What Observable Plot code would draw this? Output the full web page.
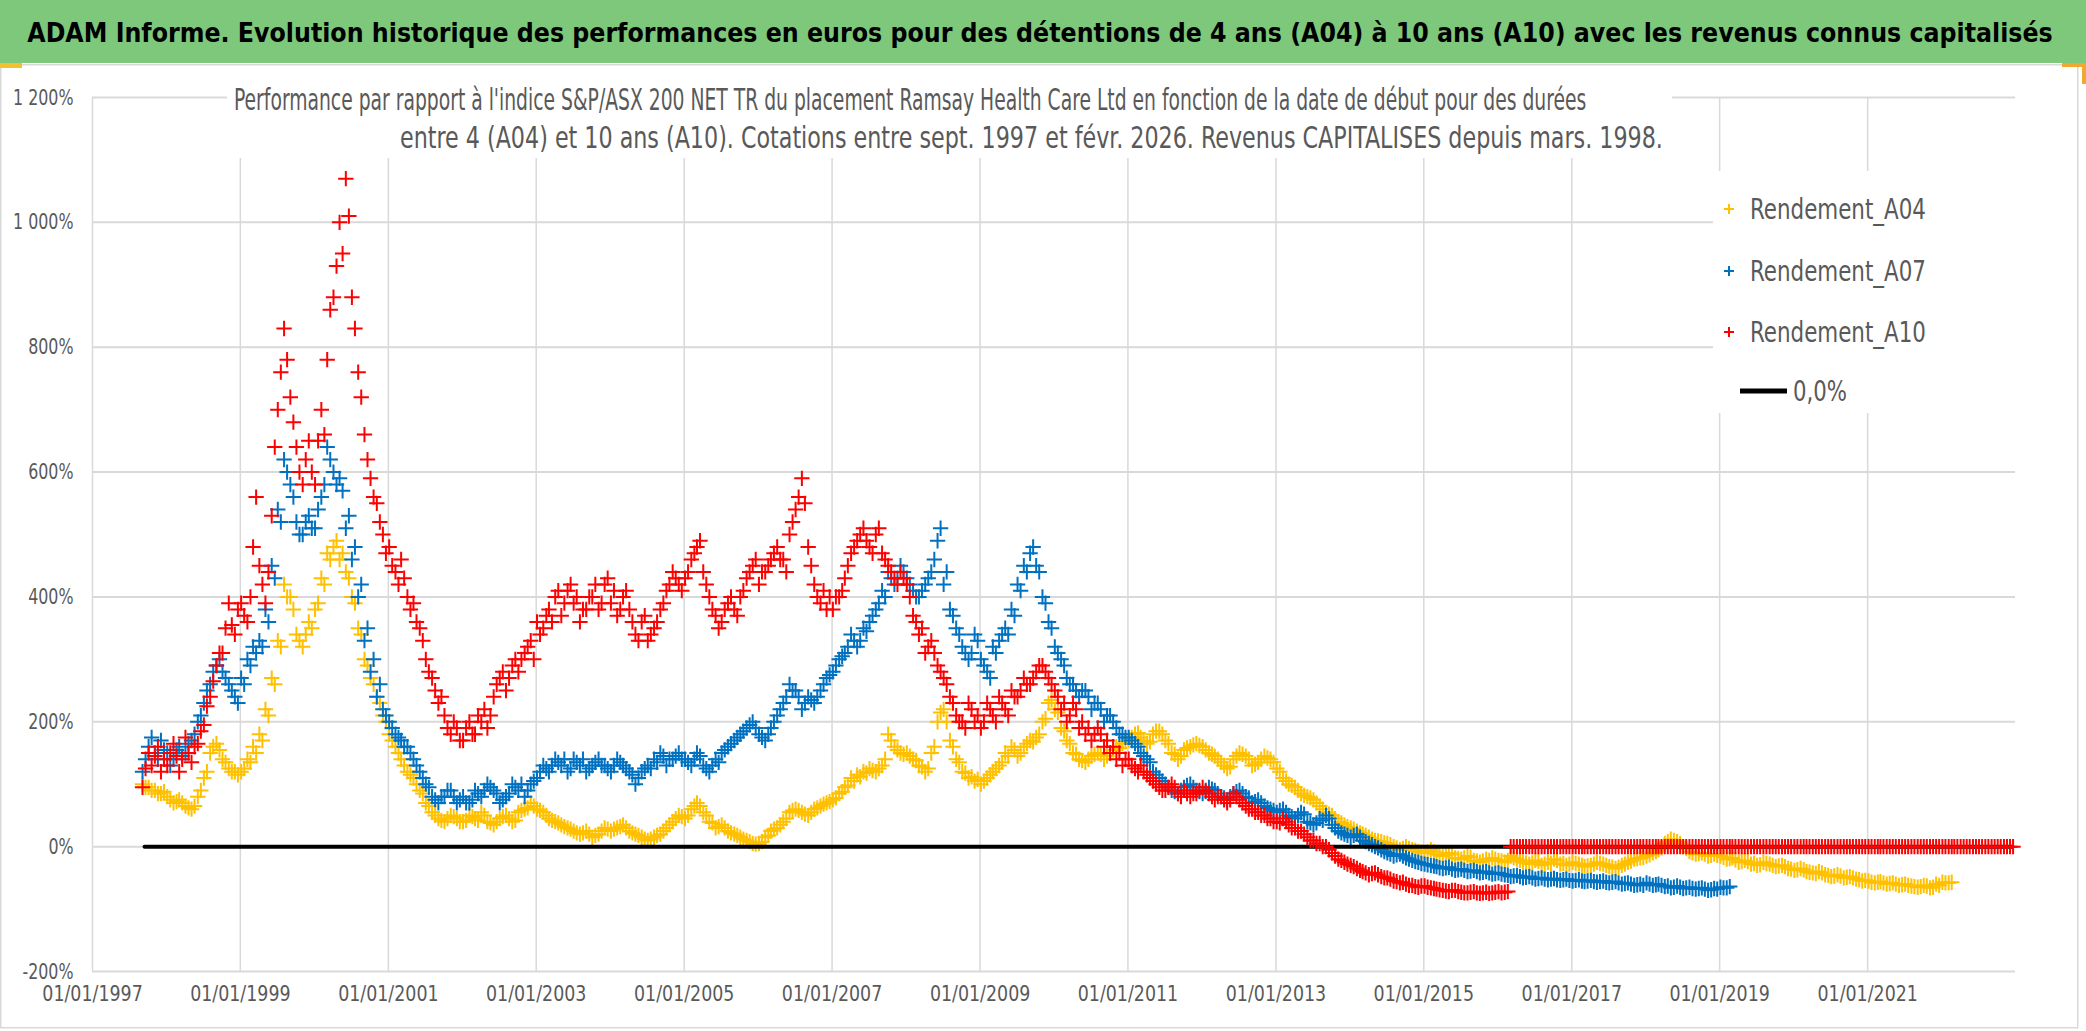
<!DOCTYPE html>
<html><head><meta charset="utf-8">
<script src="https://cdn.jsdelivr.net/npm/d3@7"></script>
<script src="https://cdn.jsdelivr.net/npm/@observablehq/plot@0.6"></script>
<style>
html,body{margin:0;padding:0;background:#fff;}
body{width:2086px;height:1031px;overflow:hidden;position:relative;font-family:"Liberation Sans Narrow","Arial Narrow","DejaVu Sans Condensed",sans-serif;}
#title{position:absolute;left:0;top:0;width:2086px;height:63px;background:#7ec87c;}
#chart{position:absolute;left:0;top:65px;}
#overlay{position:absolute;left:0;top:0;pointer-events:none;}
</style></head><body>
<div id="title"><svg width="2086" height="63"><text id="titleText" x="1040" y="42" text-anchor="middle" font-size="32" font-weight="bold" fill="#000" style="font-family:'Liberation Sans Narrow','Arial Narrow','DejaVu Sans Condensed',sans-serif"></text></svg></div>
<div id="chart"></div>
<svg id="overlay" width="2086" height="1031"></svg>
<script>
// ---------------- DATA ----------------
const titleText = "ADAM Informe. Evolution historique des performances en euros pour des détentions de 4 ans (A04) à 10 ans (A10) avec les revenus connus capitalisés";
const subtitleLines = [
  "Performance par rapport à l'indice S&P/ASX 200 NET TR  du placement Ramsay Health Care Ltd en fonction de la date de début pour des durées",
  "entre 4 (A04) et 10 ans (A10). Cotations entre sept. 1997 et févr. 2026. Revenus CAPITALISES depuis mars. 1998."
];
const seriesNames = ["Rendement_A04", "Rendement_A07", "Rendement_A10"];
const zeroName = "0,0%";
const seriesColors = ["#FFC000", "#0070C0", "#FF0000"];

const xTickDates = ["1997-01-01","1999-01-01","2001-01-01","2003-01-01","2005-01-01","2007-01-01","2009-01-01","2011-01-01","2013-01-01","2015-01-01","2017-01-01","2019-01-01","2021-01-01"];
const xDomain = ["1997-01-01", "2023-01-01"];
const yTicks = [-200, 0, 200, 400, 600, 800, 1000, 1200];

// half-monthly values (%) : two readings per month, first month given by *Start
const a04Start = "1997-09";
const a04Values = [
  100,95, 95,90, 90,85, 85,88,
  80,75, 70,72, 75,70, 65,62, 60,65, 80,90, 110,120, 150,160, 165,155, 140,135, 125,120, 120,115,
  120,125, 140,135, 160,150, 180,170, 220,210, 270,260, 330,320, 420,400, 400,380, 340,330, 320,340, 360,350,
  380,390, 430,420, 470,460, 480,490, 460,470, 440,430, 400,390, 350,340, 300,290, 270,260, 240,230, 210,200,
  180,170, 160,150, 140,130, 120,115, 110,100, 90,85, 70,65, 55,50, 45,42, 40,45, 50,48, 45,40,
  40,42, 50,48, 45,42, 55,50, 40,38, 35,40, 45,48, 50,45, 40,42, 55,58, 60,62, 70,65,
  60,58, 55,50, 45,42, 40,38, 35,32, 30,28, 25,22, 20,22, 25,20, 15,18, 20,25, 30,28,
  25,28, 30,32, 35,30, 25,22, 20,18, 15,12, 10,12, 15,18, 20,25, 30,35, 40,45, 50,48,
  45,50, 60,65, 70,65, 55,50, 40,38, 30,32, 35,30, 25,22, 20,18, 15,12, 10,8, 5,4,
  5,8, 15,18, 25,28, 30,35, 40,45, 55,58, 60,58, 55,52, 50,55, 60,62, 65,68, 70,72,
  75,78, 85,88, 95,98, 110,105, 115,112, 120,118, 125,122, 120,125, 130,140, 180,170, 160,155, 150,148,
  150,145, 140,138, 130,128, 120,125, 150,160, 200,215, 220,200, 170,160, 140,135, 120,118, 110,112, 105,108,
  100,105, 110,115, 120,125, 130,135, 150,145, 160,155, 145,150, 160,165, 170,168, 175,180, 200,205, 230,235,
  220,215, 190,185, 170,165, 150,148, 140,138, 135,140, 145,148, 150,148, 140,145, 150,155, 160,158, 165,168,
  170,175, 180,182, 175,170, 165,168, 180,185, 185,180, 170,165, 150,148, 140,145, 155,158, 160,163, 165,162,
  160,155, 150,148, 145,140, 135,130, 125,128, 140,145, 150,148, 145,140, 130,132, 135,140, 145,142, 140,135,
  125,120, 110,105, 100,98, 95,90, 85,82, 80,78, 75,70, 65,60, 55,52, 50,45, 40,38, 35,32,
  30,28, 25,22, 20,18, 15,12, 10,9, 8,6, 5,3, 0,-2, -5,-3, 0,-3, -5,-6, -8,-9,
  -10,-8, -5,-8, -12,-13, -15,-13, -10,-12, -18,-19, -20,-18, -15,-17, -22,-23, -25,-23, -20,-22, -18,-20,
  -22,-23, -25,-22, -15,-18, -20,-22, -25,-26, -28,-26, -22,-24, -30,-28, -25,-27, -20,-22, -28,-27, -30,-28,
  -25,-27, -28,-30, -32,-31, -30,-28, -25,-27, -28,-30, -32,-33, -35,-33, -30,-28, -25,-23, -20,-19, -18,-17,
  -15,-13, -10,-8, -5,-2, 5,8, 12,10, 8,5, 0,-3, -8,-10, -12,-11, -10,-12, -15,-14, -12,-14,
  -15,-17, -20,-19, -18,-21, -25,-24, -22,-24, -28,-27, -30,-29, -25,-27, -28,-30, -32,-31, -30,-32, -35,-36,
  -38,-37, -35,-37, -40,-41, -42,-43, -40,-42, -45,-46, -48,-47, -45,-47, -50,-49, -48,-50, -52,-53, -55,-54,
  -55,-57, -58,-57, -56,-58, -60,-59, -58,-60, -62,-61, -60,-62, -63,-64, -65,-64, -62,-63, -66,-65, -60,-62,
  -57,-58, -58,-57
];
const a07Start = "1997-09";
const a07Values = [
  120,140, 160,175, 150,140, 170,155,
  150,130, 140,155, 160,145, 150,165, 170,180, 200,210, 230,250, 260,280, 290,300, 280,270, 260,250, 240,230,
  270,260, 300,290, 320,310, 330,320, 380,360, 450,430, 540,520, 620,600, 580,560, 520,500, 500,520, 530,510,
  510,540, 560,580, 640,620, 600,580, 590,570, 510,530, 460,480, 400,420, 330,350, 280,300, 240,260, 220,210,
  200,190, 180,175, 170,160, 160,150, 140,130, 120,110, 100,95, 80,75, 70,80, 80,90, 90,80, 70,75,
  80,70, 70,75, 90,85, 80,90, 100,95, 90,85, 70,75, 80,85, 100,95, 90,100, 80,90, 100,105,
  110,120, 130,125, 120,130, 140,135, 130,140, 120,125, 140,135, 130,140, 120,125, 130,135, 140,130, 130,125,
  120,130, 140,135, 130,125, 120,115, 100,110, 120,125, 130,125, 140,135, 150,145, 130,140, 140,145, 150,140,
  140,135, 130,140, 150,145, 130,125, 120,130, 140,135, 150,155, 160,165, 170,175, 180,185, 190,195, 200,190,
  180,175, 170,180, 190,200, 210,220, 230,240, 260,250, 250,240, 220,230, 240,235, 230,240, 250,260, 270,275,
  280,290, 300,305, 310,320, 340,330, 320,330, 350,345, 360,370, 380,390, 410,400, 440,430, 420,430, 450,440,
  430,420, 410,400, 400,410, 420,430, 440,460, 490,510, 420,440, 380,370, 350,340, 320,310, 300,310, 340,330,
  300,290, 280,270, 320,310, 330,340, 350,340, 380,370, 420,410, 450,440, 470,480, 450,440, 400,390, 360,350,
  320,310, 300,290, 270,260, 260,250, 240,250, 250,240, 220,230, 230,220, 200,210, 210,200, 190,180, 180,175,
  175,170, 165,160, 150,145, 140,135, 120,115, 110,105, 100,95, 90,88, 85,90, 95,98, 100,95, 90,88,
  85,88, 95,92, 90,85, 80,78, 75,80, 85,88, 90,85, 80,78, 70,72, 75,70, 65,62, 60,58,
  55,58, 60,55, 50,48, 45,50, 55,52, 40,38, 35,38, 45,42, 50,45, 35,30, 25,22, 20,18,
  15,18, 20,15, 10,8, 5,3, 0,-2, -5,-8, -10,-12, -15,-13, -12,-15, -18,-20, -22,-24, -25,-27,
  -28,-29, -30,-31, -32,-34, -35,-34, -33,-36, -38,-37, -36,-38, -40,-39, -38,-40, -42,-41, -40,-42, -44,-43,
  -42,-44, -45,-46, -48,-47, -46,-48, -50,-49, -48,-50, -52,-51, -50,-52, -53,-52, -51,-53, -54,-53, -52,-54,
  -55,-54, -53,-55, -56,-55, -54,-56, -57,-56, -55,-57, -58,-57, -56,-58, -60,-59, -58,-60, -62,-61, -60,-62,
  -58,-60, -62,-61, -60,-62, -64,-63, -66,-65, -63,-65, -67,-66, -65,-67, -68,-67, -66,-68, -70,-69, -67,-68,
  -65,-66, -66,-64
];
const a10Start = "1997-09";
const a10Values = [
  95,125, 150,130, 145,160, 120,140,
  130,150, 165,145, 120,140, 175,150, 135,160, 165,185, 195,225, 240,265, 290,310, 310,350, 390,355, 340,380,
  390,370, 360,400, 480,560, 450,420, 390,440, 530,640, 700,760, 830,780, 720,680, 640,600, 580,620, 650,600,
  580,650, 700,660, 780,860, 880,930, 1000,950, 1070,1010, 880,830, 760,720, 660,620, 590,560, 550,520, 500,470,
  480,450, 440,420, 460,430, 400,380, 390,360, 350,330, 300,280, 270,250, 230,240, 210,190, 180,200, 190,170,
  170,190, 200,180, 180,210, 200,220, 190,210, 240,260, 270,280, 250,270, 290,300, 280,300, 310,320, 330,300,
  360,340, 350,370, 380,360, 400,410, 370,390, 410,420, 390,400, 360,380, 380,400, 400,420, 380,390, 420,430,
  390,410, 370,380, 400,410, 380,360, 340,330, 360,370, 330,340, 350,360, 380,390, 410,420, 440,430, 420,410,
  430,440, 460,470, 480,490, 440,420, 400,380, 370,350, 360,380, 390,400, 380,370, 400,410, 430,440, 450,460,
  420,440, 440,450, 460,470, 480,460, 460,440, 500,520, 540,560, 590,550, 480,450, 420,400, 390,410, 380,400,
  380,400, 400,410, 430,450, 470,480, 490,500, 510,490, 480,470, 500,510, 470,460, 450,440, 430,420, 440,430,
  420,400, 370,360, 340,350, 310,320, 330,310, 290,280, 270,260, 240,230, 210,200, 200,190, 230,220, 200,210,
  190,200, 230,220, 210,200, 240,230, 220,210, 250,240, 240,250, 270,260, 260,270, 280,290, 290,280, 270,260,
  250,240, 220,230, 200,210, 230,220, 190,200, 180,190, 170,180, 190,180, 160,170, 150,160, 140,150, 130,140,
  140,130, 125,120, 130,120, 115,110, 105,100, 95,90, 90,95, 100,95, 85,80, 90,85, 80,85, 85,90,
  95,90, 85,80, 75,80, 80,75, 70,75, 85,80, 75,70, 65,60, 60,55, 55,50, 50,45, 45,40,
  40,38, 45,40, 35,30, 30,25, 25,20, 15,10, 10,5, 5,0, 0,-5, -10,-15, -20,-22, -25,-28,
  -30,-32, -35,-38, -40,-42, -45,-43, -42,-45, -48,-50, -50,-52, -55,-56, -58,-57, -60,-62, -62,-64, -65,-63,
  -63,-65, -66,-67, -68,-69, -70,-71, -72,-70, -70,-72, -73,-74, -74,-73, -72,-74, -75,-74, -73,-75, -74,-73,
  -72,-74, -73,-72
];
// A10 has no 10-year result after Feb. 2016: plotted at 0 (two readings per month) up to the end of the axis
const a10ZeroStart = "2016-03";
const a10ZeroValues = [
  0,0, 0,0, 0,0, 0,0, 0,0, 0,0, 0,0, 0,0, 0,0, 0,0,
  0,0, 0,0, 0,0, 0,0, 0,0, 0,0, 0,0, 0,0, 0,0, 0,0, 0,0, 0,0,
  0,0, 0,0, 0,0, 0,0, 0,0, 0,0, 0,0, 0,0, 0,0, 0,0, 0,0, 0,0,
  0,0, 0,0, 0,0, 0,0, 0,0, 0,0, 0,0, 0,0, 0,0, 0,0, 0,0, 0,0,
  0,0, 0,0, 0,0, 0,0, 0,0, 0,0, 0,0, 0,0, 0,0, 0,0, 0,0, 0,0,
  0,0, 0,0, 0,0, 0,0, 0,0, 0,0, 0,0, 0,0, 0,0, 0,0, 0,0, 0,0,
  0,0, 0,0, 0,0, 0,0, 0,0, 0,0, 0,0, 0,0, 0,0, 0,0, 0,0, 0,0
];
const zeroDates = ["1997-09-15", "2022-12-15"];
const zeroValues = [0, 0];

// ---------------- BUILD ----------------
const FONT = "'Liberation Sans Narrow','Arial Narrow','DejaVu Sans Condensed',sans-serif";
const parseMonth = d3.utcParse("%Y-%m");
const parseDay = d3.utcParse("%Y-%m-%d");
function halfMonthly(start, values, series) {
  const s = parseMonth(start);
  return values.map((v, i) => ({date: d3.utcDay.offset(d3.utcMonth.offset(s, Math.floor(i / 2)), 4 + (i % 2) * 15), value: v, series}));
}
const a04 = halfMonthly(a04Start, a04Values, seriesNames[0]);
const a07 = halfMonthly(a07Start, a07Values, seriesNames[1]);
const a10 = halfMonthly(a10Start, a10Values, seriesNames[2]).concat(halfMonthly(a10ZeroStart, a10ZeroValues, seriesNames[2]));
const zero = zeroDates.map((d, i) => ({date: parseDay(d), value: zeroValues[i]}));
const xTicks = xTickDates.map(parseDay);

const fmtPct = v => {
  const a = Math.abs(v), s = v < 0 ? "-" : "";
  const body = a >= 1000 ? Math.floor(a / 1000) + "\u00a0" + String(a % 1000).padStart(3, "0") : String(a);
  return s + body + "%";
};

// title: font size chosen so that the text naturally spans the band width
const tt = document.getElementById("titleText");
tt.textContent = titleText;
{
  const w = tt.getComputedTextLength();
  const fs = Math.min(36, 32 * 2026 / w);
  tt.setAttribute("font-size", fs.toFixed(2));
}

const dotOpts = (color) => ({x: "date", y: "value", symbol: "plus", r: 5, stroke: color, strokeWidth: 2});

const chart = Plot.plot({
  width: 2086, height: 966,
  marginLeft: 92, marginRight: 71, marginTop: 32, marginBottom: 60,
  x: {type: "utc", domain: xDomain.map(parseDay)},
  y: {domain: [-200, 1200]},
  style: {fontFamily: FONT, background: "transparent", overflow: "visible"},
  marks: [
    Plot.gridY(yTicks, {stroke: "#d9d9d9", strokeOpacity: 1, strokeWidth: 2}),
    Plot.gridX(xTicks, {stroke: "#d9d9d9", strokeOpacity: 1, strokeWidth: 1.5}),
    Plot.axisY(yTicks, {tickSize: 0, tickPadding: 19, tickFormat: fmtPct, fontSize: 22, fill: "#595959", label: null}),
    Plot.axisX(xTicks, {tickSize: 0, tickPadding: 14, tickFormat: d3.utcFormat("%d/%m/%Y"), fontSize: 22, fill: "#595959", label: null}),
    Plot.dot(a04, dotOpts(seriesColors[0])),
    Plot.dot(a07, dotOpts(seriesColors[1])),
    Plot.line(zero, {x: "date", y: "value", stroke: "#000", strokeWidth: 4}),
    Plot.dot(a10, dotOpts(seriesColors[2]))
  ]
});
document.getElementById("chart").appendChild(chart);

// condense axis labels (Calibri-like narrow widths)
d3.select(chart).selectAll("text").each(function () {
  const t = this.textContent;
  let k = null;
  if (/%$/.test(t)) k = 0.8;
  else if (/\d\d\/\d\d\/\d{4}/.test(t)) k = 0.88;
  if (k) {
    const w = this.getComputedTextLength();
    this.setAttribute("textLength", (w * k).toFixed(1));
    this.setAttribute("lengthAdjust", "spacingAndGlyphs");
  }
});

// ---------------- OVERLAY: border, subtitle, legend ----------------
const ov = d3.select("#overlay");
ov.append("rect").attr("x", 0.75).attr("y", 64.75).attr("width", 2077).attr("height", 963)
  .attr("fill", "none").attr("stroke", "#d9d9d9").attr("stroke-width", 1.5);
ov.append("rect").attr("x", 0).attr("y", 63).attr("width", 22).attr("height", 5).attr("fill", "#f2c12e");
ov.append("path").attr("d", "M2062,65H2084V84").attr("fill", "none").attr("stroke", "#f0a830").attr("stroke-width", 4);

// text squeezed horizontally with a transform (narrow Calibri-like look)
function squeezedText(parent, str, x, y, len, size) {
  const t = parent.append("text").attr("x", 0).attr("y", 0).attr("font-size", size)
    .attr("fill", "#595959").style("font-family", FONT).text(str);
  const w = t.node().getComputedTextLength();
  t.attr("transform", `translate(${x},${y}) scale(${(len / w).toFixed(4)},1)`);
  return t;
}

// subtitle
ov.append("rect").attr("x", 227).attr("y", 76).attr("width", 1445).attr("height", 82).attr("fill", "#fff");
const subPos = [{x: 234, y: 110, len: 1353}, {x: 400, y: 148, len: 1264}];
subtitleLines.forEach((t, i) => squeezedText(ov, t, subPos[i].x, subPos[i].y, subPos[i].len, 31));

// legend
ov.append("rect").attr("x", 1713).attr("y", 171).attr("width", 307).attr("height", 242).attr("fill", "#fff");
const legY = [209, 271, 332];
seriesNames.forEach((n, i) => {
  ov.append("path").attr("d", `M${1729 - 5},${legY[i]}h10M1729,${legY[i] - 5}v10`)
    .attr("stroke", seriesColors[i]).attr("stroke-width", 2).attr("fill", "none");
  squeezedText(ov, n, 1750, legY[i] + 10, 176, 29);
});
ov.append("line").attr("x1", 1740).attr("x2", 1787).attr("y1", 391).attr("y2", 391).attr("stroke", "#000").attr("stroke-width", 5);
squeezedText(ov, zeroName, 1793, 401, 54, 29);
</script>
</body></html>
